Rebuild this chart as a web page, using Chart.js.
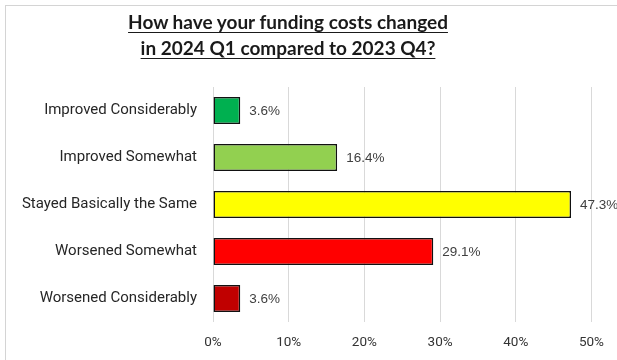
<!DOCTYPE html>
<html>
<head>
<meta charset="utf-8">
<script src="https://cdn.jsdelivr.net/npm/chart.js@4/dist/chart.umd.min.js"></script>
<style>
  html, body { margin: 0; padding: 0; background: #fff; overflow: hidden; }
  #wrap { position: relative; width: 617px; height: 360px; }
  #frame { position: absolute; left: 5px; top: 5px; width: 700px; height: 400px;
           border: 1px solid #d4d4d4; box-sizing: border-box; }
  #title { position: absolute; left: 68px; width: 440px; top: 9px; text-align: center;
           font-family: Lato, "Open Sans", sans-serif; font-weight: 700; font-size: 19px;
           line-height: 26px; color: #1a1a1a; text-decoration: underline;
           text-underline-offset: 3px; text-decoration-thickness: 1px; }
  canvas { position: absolute; left: 0; top: 0; }
</style>
</head>
<body>
<div id="wrap">
  <div id="frame"></div>
  <canvas id="c" width="617" height="360"></canvas>
  <div id="title">How have your funding costs changed<br>in 2024 Q1 compared to 2023 Q4?</div>
</div>
<script>
const categories = [
  "Improved Considerably",
  "Improved Somewhat",
  "Stayed Basically the Same",
  "Worsened Somewhat",
  "Worsened Considerably"
];
const shares = [3.6, 16.4, 47.3, 29.1, 3.6];
const barColors = ["#00b050", "#92d050", "#ffff00", "#ff0000", "#c00000"];
const xTicks = [0, 10, 20, 30, 40, 50];

// value labels to the right of each bar
const valueLabels = {
  id: "valueLabels",
  afterDatasetsDraw(chart) {
    const ctx = chart.ctx;
    const meta = chart.getDatasetMeta(0);
    ctx.save();
    ctx.font = "13.5px 'Liberation Sans', Arial, sans-serif";
    ctx.fillStyle = "#404040";
    ctx.textAlign = "left";
    ctx.textBaseline = "middle";
    meta.data.forEach((bar, i) => {
      ctx.fillText(shares[i].toFixed(1) + "%", bar.x + 9, bar.y + 1);
    });
    ctx.restore();
  }
};

new Chart(document.getElementById("c"), {
  type: "bar",
  data: {
    labels: categories,
    datasets: [{
      data: shares,
      backgroundColor: barColors,
      borderColor: "#111",
      borderWidth: 1.5,
      borderSkipped: false,
      categoryPercentage: 1,
      barPercentage: 0.575
    }]
  },
  options: {
    indexAxis: "y",
    responsive: false,
    animation: false,
    layout: { padding: { left: 0, right: 24, top: 87, bottom: 0 } },
    plugins: { legend: { display: false }, title: { display: false }, tooltip: { enabled: false } },
    scales: {
      x: {
        min: 0, max: 50,
        afterBuildTicks(scale) { scale.ticks = xTicks.map(v => ({ value: v })); },
        afterFit(scale) { scale.height = 38; },
        grid: { color: "#d9d9d9", lineWidth: 1, drawTicks: false },
        border: { display: false },
        ticks: {
          padding: 13,
          color: "#333",
          font: { family: "Roboto, 'Liberation Sans', sans-serif", size: 13.5 },
          callback: v => v + "%"
        }
      },
      y: {
        afterFit(scale) { scale.width = 213; },
        grid: { display: false, drawTicks: false },
        border: { display: false },
        ticks: {
          padding: 16,
          color: "#262626",
          font: { family: "Roboto, 'Liberation Sans', sans-serif", size: 15 }
        }
      }
    }
  },
  plugins: [valueLabels]
});
</script>
</body>
</html>
